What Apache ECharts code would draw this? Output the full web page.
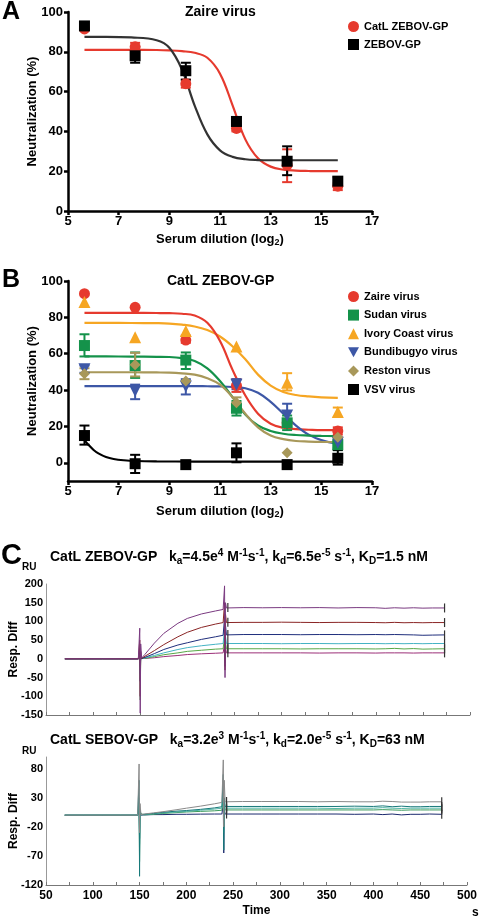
<!DOCTYPE html>
<html><head><meta charset="utf-8">
<script src="https://cdn.jsdelivr.net/npm/echarts@6/dist/echarts.min.js"></script>
<style>html,body{margin:0;padding:0;background:#fff;} #c{width:480px;height:918px;}</style>
</head><body><div id="c"></div>
<script>
const F = 'Liberation Sans, Arial, Helvetica, sans-serif';

// ---------- shared x positions (log2 serum dilution) ----------
const dilutions = [5.65, 7.65, 9.65, 11.65, 13.65, 15.65];
const fitX = [5.65, 6.5, 7.5, 8.5, 9, 9.5, 10, 10.5, 11, 11.5, 12, 12.5, 13, 13.5, 14, 14.5, 15, 15.65];

// ---------- Panel A ----------
const aCatL = [91.5, 82.5, 64, 41.5, 23, 12.5];
const aCatLLo = [null, 80, 62, 40, 14.5, 10.5];
const aCatLHi = [null, 84.5, 66, 44, 31, 14];
const aZebov = [93, 78, 70.5, 45, 25, 15];
const aZebovLo = [null, 74.5, 66, 43, 18, 12];
const aZebovHi = [null, 82.5, 74.5, 47, 32.5, 17];
const aFitCatL = [81, 81, 81, 80.9, 80.7, 80.3, 79.5, 77, 69, 53, 36, 26.5, 22.3, 20.8, 20.3, 20.1, 20, 20];
const aFitZebov = [87.5, 87.5, 87.2, 85.8, 82, 71, 53, 38.5, 30.5, 27.2, 26, 25.6, 25.5, 25.5, 25.5, 25.5, 25.5, 25.5];

// ---------- Panel B ----------
const bZaire = [93, 85.5, 67.5, 42.5, 22, 17.5];
const bZaireLo = [null, null, 66, 39, 20, 15.5];
const bZaireHi = [null, null, 70, 46, 24, 19.5];
const bSudan = [64.5, 53.5, 56.5, 30, 22, 10];
const bSudanLo = [58.5, 46.7, 51.6, 26, 18, 7];
const bSudanHi = [70.7, 60.7, 60.7, 34, 26, 13];
const bIvory = [88.5, 69, 72.5, 64, 44, 28];
const bIvoryLo = [null, null, null, null, 39.8, 25.3];
const bIvoryHi = [null, null, null, null, 49.3, 30.4];
const bBundi = [51.5, 39.5, 42, 43, 26, 11];
const bBundiLo = [49.5, 35, 37.6, 40.5, 22, 8];
const bBundiHi = [53.5, 43, 46, 46, 32.5, 14];
const bReston = [49, 54, 45, 33, 5.5, 14];
const bRestonLo = [46, 47.5, null, 30, null, 12];
const bRestonHi = [52, 60.5, null, 36, null, 17];
const bVsv = [15, -0.5, -1, 5.5, -1, 2.5];
const bVsvLo = [10, -5.6, null, 0.3, null, -1];
const bVsvHi = [20.5, 4.4, null, 10.7, null, 7];

const bFitZaire = [82.5, 82.5, 82.5, 82.4, 82.3, 82, 81, 77, 67, 51, 37, 27, 21.5, 19.3, 18.5, 18.2, 18, 18];
const bFitSudan = [58.5, 58.5, 58.4, 58.3, 58.2, 57.6, 56, 52, 45, 36, 26.5, 20.5, 17.5, 16, 15.3, 15, 14.8, 14.7];
const bFitIvory = [77, 77, 76.9, 76.8, 76.6, 76, 75, 73, 69.5, 64, 57, 48.5, 42.5, 39, 37.3, 36.5, 36, 35.7];
const bFitBundi = [42.2, 42.2, 42.2, 42.2, 42.2, 42.2, 42.2, 42.1, 42, 41.7, 41, 38.5, 33.5, 27, 20.5, 15.5, 12.5, 10.5];
const bFitReston = [49.8, 49.8, 49.8, 49.7, 49.6, 49.2, 48.5, 46.5, 43, 36, 27, 19.5, 15, 13, 12, 11.7, 11.5, 11.4];
const bFitVsvX = [5.65, 5.8, 6, 6.2, 6.5, 6.8, 7.2, 7.7, 8.5, 10, 12, 14, 15.65];
const bFitVsv = [12.5, 10, 7.2, 5.2, 3.2, 2.1, 1.4, 1, 0.8, 0.7, 0.7, 0.7, 0.7];

// ---------- Panel C (SPR sensorgrams) ----------
const sprTime = [70, 90, 110, 130, 148, 149.5, 150, 150.5, 151.5, 155, 165, 175, 190, 200, 215, 230, 238,
  239.5, 240, 240.5, 241.5, 243, 260, 280, 300, 320, 340, 360, 380, 400, 410, 420, 430, 440, 450, 460, 473];
const zPurple = [0, 0, 0.3, 0, 0, 82, -145, 40, 2, 12, 42, 68, 95, 108, 120, 128, 132, 195, -50, 150, 136,
  137, 137, 136.5, 137, 136.5, 137, 136, 137, 136.5, 135, 136.5, 135.5, 136.5, 135.5, 136, 136];
const zDarkRed = [0, 0, 0, 0, 0, 50, -100, 20, 1, 7, 22, 38, 59, 71, 84, 93, 97, 150, -30, 120, 97,
  98, 97.5, 97.5, 98, 97.5, 97, 97.5, 97.5, 97, 96.5, 97.5, 96.5, 97, 96.5, 97, 97];
const zNavy = [0, 0, 0, 0, 0, 30, -60, 10, 0.5, 4, 14, 25, 37, 43, 52, 59, 63, 110, -20, 90, 64,
  65, 65, 65, 65, 64.5, 65, 65, 64.5, 65, 64.5, 65, 64.5, 64, 63, 63.5, 64];
const zCyan = [0, 0, 0, 0, 0, 20, -40, 8, 0, 3, 9, 16, 25, 30, 35, 39, 41, 80, -10, 60, 41,
  41, 41, 41, 40.5, 41, 41, 40.5, 41, 41, 40.5, 41, 40.5, 41, 40.5, 41, 41];
const zGreen = [0, 0, 0, 0, 0, 15, -110, 5, 0, 1.5, 6, 11, 16, 20, 23, 26, 27, 60, -5, 45, 27,
  27, 27, 27, 27, 26.5, 27, 27, 27, 26.5, 27, 28, 26.5, 27.5, 26, 26.5, 27];
const zMagenta = [0, 0, 0, 0, 0, 10, -20, 3, 0, 1, 3, 6, 9, 11.5, 13.5, 15, 16, 40, 0, 30, 16,
  16, 16, 16, 16, 16, 15.5, 16, 16, 15.5, 16, 16, 16, 15.5, 16, 16, 16];

const sGray = [0, 0, 0, 0, 0, 88, -30, 20, 1, 2, 4, 6, 9.5, 12, 15.5, 19.5, 22, 95, -20, 60, 23,
  23.5, 23.5, 23.5, 23.5, 23.5, 23, 23.5, 23, 23, 24, 23.5, 22.5, 22.5, 22.5, 23, 23];
const sTeal = [0, 0, 0, 0, 0, 60, -105, 10, 1, 1.5, 3, 5, 7, 8, 10, 12.5, 14.5, 70, -60, 30, 15,
  15, 15, 15, 15, 15, 15, 15, 15.5, 15, 16, 14.5, 15.5, 14.5, 14.5, 15, 15];
const sLightTeal = [0, 0, 0, 0, 0, 30, -50, 5, 0.5, 1, 2.5, 4, 5.5, 6.5, 8.5, 10.5, 12, 40, -30, 20, 12,
  12, 12, 12, 12, 12, 12, 11.5, 12, 12, 13, 12, 11.5, 12, 12, 12, 12];
const sGreen = [0, 0, 0, 0, 0, 20, -80, 3, 0, 0.5, 1.5, 3, 4.5, 5.5, 6.5, 7.5, 8.5, 30, -20, 15, 9,
  9, 9, 9, 9, 9, 9, 9, 9, 9, 9.5, 9, 8.5, 9, 9, 9, 9];
const sNavy = [0, 0, 0, 0, 0, 10, -40, 10, 0, 0.5, 1, 1, 1.5, 1.5, 1.8, 2, 2, 20, -65, 10, 2,
  2, 2, 2, 2, 2, 2, 2, 1.5, 2, 1, 2, 0.5, 1.5, 1.5, 2, 1.5];

// ---------- helpers ----------
function bold(size, extra) {
  return Object.assign({fontFamily: F, fontWeight: 'bold', fontSize: size, color: '#000'}, extra || {});
}
function fitLine(name, xs, ys, color, gi) {
  return {name, type: 'line', xAxisIndex: gi, yAxisIndex: gi, data: xs.map((x, i) => [x, ys[i]]),
    smooth: 0.4, showSymbol: false, symbol: 'none', silent: true,
    lineStyle: {color, width: 2.2}, z: 2};
}
function pts(name, ys, color, symbol, size, gi, z) {
  return {name, type: 'scatter', xAxisIndex: gi, yAxisIndex: gi, data: dilutions.map((x, i) => [x, ys[i]]),
    symbol, symbolSize: size, itemStyle: {color, opacity: 1}, z: z || 4, silent: true};
}
function errBars(name, lo, hi, color, gi) {
  const data = [];
  dilutions.forEach((x, i) => { if (lo[i] != null) data.push([x, lo[i], hi[i]]); });
  return {name, type: 'custom', xAxisIndex: gi, yAxisIndex: gi, silent: true, z: 3, data,
    encode: {x: 0, y: [1, 2]},
    renderItem(params, api) {
      const x = api.value(0);
      const p1 = api.coord([x, api.value(1)]);
      const p2 = api.coord([x, api.value(2)]);
      const w = 5, st = {stroke: color, lineWidth: 2};
      return {type: 'group', children: [
        {type: 'line', shape: {x1: p1[0], y1: p1[1], x2: p2[0], y2: p2[1]}, style: st},
        {type: 'line', shape: {x1: p1[0] - w, y1: p1[1], x2: p1[0] + w, y2: p1[1]}, style: st},
        {type: 'line', shape: {x1: p2[0] - w, y1: p2[1], x2: p2[0] + w, y2: p2[1]}, style: st}
      ]};
    }};
}
function spr(name, vals, color, gi, marks) {
  const s = {name, type: 'line', xAxisIndex: gi, yAxisIndex: gi, data: sprTime.map((t, i) => [t, vals[i]]),
    showSymbol: false, symbol: 'none', silent: true, lineStyle: {color, width: 1}, z: 2};
  if (marks) {
    s.markPoint = {symbol: 'rect', symbolSize: [1.2, 9], silent: true, label: {show: false},
      itemStyle: {color: '#333'},
      data: [{coord: [sprTime[21], vals[21]]}, {coord: [sprTime[36], vals[36]]}]};
  }
  return s;
}
const subRich = {sub: bold(9, {lineHeight: 9, verticalAlign: 'bottom'})};
function sigX(gi, nameGap) {
  return {gridIndex: gi, type: 'value', min: 5, max: 17, interval: 2,
    axisLine: {onZero: false, lineStyle: {color: '#000', width: 2.5}},
    axisTick: {length: 4, lineStyle: {color: '#000', width: 2.5}},
    axisLabel: bold(13, {margin: 4}),
    splitLine: {show: false},
    name: 'Serum dilution (log{sub|2})', nameLocation: 'middle', nameGap, nameMoveOverlap: false,
    nameTextStyle: bold(13, {lineHeight: 16, rich: subRich})};
}
function sigY(gi, min, extra) {
  return Object.assign({gridIndex: gi, type: 'value', min, max: 100, interval: 20,
    axisLine: {onZero: false, lineStyle: {color: '#000', width: 2.5}},
    axisTick: {length: 4, lineStyle: {color: '#000', width: 2.5}},
    axisLabel: bold(13, {margin: 5}),
    splitLine: {show: false},
    name: 'Neutralization (%)', nameLocation: 'middle', nameGap: 29, nameMoveOverlap: false,
    nameTextStyle: bold(13)}, extra || {});
}
const scriptRich = {
  sub: bold(10, {lineHeight: 10, verticalAlign: 'bottom'}),
  sup: bold(10, {lineHeight: 10, verticalAlign: 'top'})
};

const RED = '#e63a2e', GREEN = '#14924a', ORANGE = '#f6a623', BLUE = '#3d57a6', KHAKI = '#a8985a';
const DOWN_TRI = 'path://M0,0L12,0L6,11Z';

const option = {
  animation: false,
  backgroundColor: '#fff',
  title: [
    {text: 'A', left: 2, top: 0, padding: 0, textStyle: bold(25)},
    {text: 'Zaire virus', left: 185, top: 5, padding: 0, textStyle: bold(14)},
    {text: 'B', left: 2, top: 268, padding: 0, textStyle: bold(25)},
    {text: 'CatL ZEBOV-GP', left: 167, top: 274, padding: 0, textStyle: bold(14)},
    {text: 'C', left: 1, top: 541, padding: 0, textStyle: bold(29)},
    {text: 'RU', left: 22, top: 562, padding: 0, textStyle: bold(10)},
    {text: 'CatL ZEBOV-GP   k{sub|a}=4.5e{sup|4} M{sup|-1}s{sup|-1}, k{sub|d}=6.5e{sup|-5} s{sup|-1}, K{sub|D}=1.5 nM',
      left: 50, top: 548, padding: 0, textStyle: bold(14, {lineHeight: 18, rich: scriptRich})},
    {text: 'CatL SEBOV-GP   k{sub|a}=3.2e{sup|3} M{sup|-1}s{sup|-1}, k{sub|d}=2.0e{sup|-5} s{sup|-1}, K{sub|D}=63 nM',
      left: 50, top: 731, padding: 0, textStyle: bold(14, {lineHeight: 18, rich: scriptRich})},
    {text: 'RU', left: 22, top: 746, padding: 0, textStyle: bold(10)},
    {text: 's', left: 472, top: 907, padding: 0, textStyle: bold(12)}
  ],
  legend: [
    {left: 343, top: 16, orient: 'vertical', itemGap: 7, itemWidth: 11, itemHeight: 11,
      textStyle: bold(11), selectedMode: false,
      data: [{name: 'CatL ZEBOV-GP', icon: 'circle'}, {name: 'ZEBOV-GP', icon: 'rect'}]},
    {left: 343, top: 286, orient: 'vertical', itemGap: 7.6, itemWidth: 11, itemHeight: 11,
      textStyle: bold(11), selectedMode: false,
      data: [{name: 'Zaire virus', icon: 'circle'}, {name: 'Sudan virus', icon: 'rect'},
        {name: 'Ivory Coast virus', icon: 'triangle'}, {name: 'Bundibugyo virus', icon: DOWN_TRI},
        {name: 'Reston virus', icon: 'diamond'}, {name: 'VSV virus', icon: 'rect'}]}
  ],
  grid: [
    {left: 68, top: 12, width: 304, height: 199},
    {left: 68, top: 281, width: 304, height: 200},
    {left: 44, top: 584, width: 426, height: 131},
    {left: 44, top: 757, width: 426, height: 131}
  ],
  xAxis: [
    sigX(0, 20),
    sigX(1, 22),
    {gridIndex: 2, type: 'value', min: 50, max: 500, interval: 50,
      axisLine: {onZero: false, lineStyle: {color: '#777', width: 1}},
      axisTick: {inside: true, length: 3, lineStyle: {color: '#777'}},
      minorTick: {show: true, splitNumber: 2, length: 3, lineStyle: {color: '#777'}},
      axisLabel: {show: false}, splitLine: {show: false}},
    {gridIndex: 3, type: 'value', min: 50, max: 500, interval: 50,
      axisLine: {onZero: false, lineStyle: {color: '#777', width: 1}},
      axisTick: {inside: true, length: 3, lineStyle: {color: '#777'}},
      minorTick: {show: true, splitNumber: 2, length: 3, lineStyle: {color: '#777'}},
      axisLabel: bold(12, {margin: 5}), splitLine: {show: false},
      name: 'Time', nameLocation: 'middle', nameGap: 20, nameMoveOverlap: false, nameTextStyle: bold(12)}
  ],
  yAxis: [
    sigY(0, 0),
    sigY(1, -10, {
      axisLabel: bold(13, {margin: 5, customValues: [0, 20, 40, 60, 80, 100]}),
      axisTick: {length: 4, lineStyle: {color: '#000', width: 2.5}, customValues: [0, 20, 40, 60, 80, 100]}
    }),
    {gridIndex: 2, type: 'value', min: -150, max: 200, interval: 50,
      axisLine: {show: true, onZero: false, lineStyle: {color: '#999', width: 1}},
      axisTick: {show: false}, axisLabel: bold(11, {margin: 3}), splitLine: {show: false},
      name: 'Resp. Diff', nameLocation: 'middle', nameGap: 26, nameMoveOverlap: false, nameTextStyle: bold(12)},
    {gridIndex: 3, type: 'value', min: -120, max: 100, interval: 10,
      axisLine: {show: true, onZero: false, lineStyle: {color: '#999', width: 1}},
      axisTick: {show: false},
      axisLabel: bold(11, {margin: 3, customValues: [-120, -70, -20, 30, 80]}),
      splitLine: {show: false},
      name: 'Resp. Diff', nameLocation: 'middle', nameGap: 26, nameMoveOverlap: false, nameTextStyle: bold(12)}
  ],
  series: [
    // Panel A
    fitLine('fitA-catl', fitX, aFitCatL, RED, 0),
    fitLine('fitA-zebov', fitX, aFitZebov, '#333', 0),
    errBars('errA-catl', aCatLLo, aCatLHi, RED, 0),
    pts('CatL ZEBOV-GP', aCatL, RED, 'circle', 11, 0, 4),
    errBars('errA-zebov', aZebovLo, aZebovHi, '#000', 0),
    pts('ZEBOV-GP', aZebov, '#000', 'rect', 11, 0, 5),
    // Panel B
    fitLine('fitB-ivory', fitX, bFitIvory, ORANGE, 1),
    fitLine('fitB-zaire', fitX, bFitZaire, RED, 1),
    fitLine('fitB-bundi', fitX, bFitBundi, BLUE, 1),
    fitLine('fitB-sudan', fitX, bFitSudan, GREEN, 1),
    fitLine('fitB-reston', fitX, bFitReston, KHAKI, 1),
    fitLine('fitB-vsv', bFitVsvX, bFitVsv, '#000', 1),
    errBars('errB-zaire', bZaireLo, bZaireHi, RED, 1),
    errBars('errB-sudan', bSudanLo, bSudanHi, GREEN, 1),
    errBars('errB-ivory', bIvoryLo, bIvoryHi, ORANGE, 1),
    errBars('errB-bundi', bBundiLo, bBundiHi, BLUE, 1),
    errBars('errB-reston', bRestonLo, bRestonHi, KHAKI, 1),
    errBars('errB-vsv', bVsvLo, bVsvHi, '#000', 1),
    pts('Zaire virus', bZaire, RED, 'circle', 11, 1),
    pts('Sudan virus', bSudan, GREEN, 'rect', 11, 1),
    pts('Ivory Coast virus', bIvory, ORANGE, 'triangle', 12, 1),
    pts('Bundibugyo virus', bBundi, BLUE, DOWN_TRI, 12, 1),
    pts('Reston virus', bReston, KHAKI, 'diamond', 11, 1),
    pts('VSV virus', bVsv, '#000', 'rect', 11, 1),
    // Panel C top
    spr('z-magenta', zMagenta, '#9c2f78', 2, true),
    spr('z-green', zGreen, '#58a846', 2, true),
    spr('z-cyan', zCyan, '#45b3c4', 2, true),
    spr('z-navy', zNavy, '#1f2e7c', 2, true),
    spr('z-darkred', zDarkRed, '#8a2525', 2, true),
    spr('z-purple', zPurple, '#7a3a80', 2, true),
    // Panel C bottom
    spr('s-navy', sNavy, '#1c2a6e', 3, true),
    spr('s-green', sGreen, '#3c9a5c', 3, true),
    spr('s-lightteal', sLightTeal, '#52b6a6', 3, true),
    spr('s-teal', sTeal, '#17797a', 3, true),
    spr('s-gray', sGray, '#8a8a8a', 3, true)
  ]
};
const chart = echarts.init(document.getElementById('c'), null, {renderer: 'canvas'});
chart.setOption(option);
</script>
</body></html>
